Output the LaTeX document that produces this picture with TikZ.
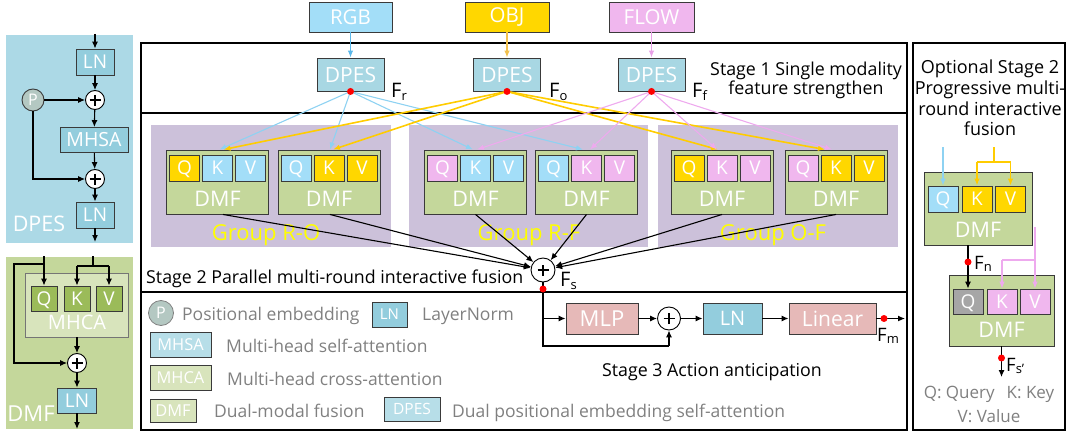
\documentclass[tikz,border=0pt]{standalone}
\usepackage{fontspec}
\setmainfont{Open Sans}
\usetikzlibrary{arrows.meta,calc}
\definecolor{bord}{HTML}{3A3A3A}
\definecolor{panelblue}{HTML}{ACD9E6}
\definecolor{boxblue}{HTML}{93CDDD}
\definecolor{dpesblue}{HTML}{A8D7E3}
\definecolor{inblue}{HTML}{A3DEF8}
\definecolor{lineblue}{HTML}{8ED2F2}
\definecolor{arrblue}{HTML}{5BB8EA}
\definecolor{gold}{HTML}{FFD700}
\definecolor{linegold}{HTML}{FFCC00}
\definecolor{arrgold}{HTML}{F2C14E}
\definecolor{pinkq}{HTML}{F0B7EE}
\definecolor{linepink}{HTML}{EEAAEE}
\definecolor{arrpink}{HTML}{E9A1E8}
\definecolor{purp}{HTML}{CCC1DA}
\definecolor{dmfg}{HTML}{C4D79B}
\definecolor{mhcag}{HTML}{D8E4BC}
\definecolor{darkg}{HTML}{9BBB59}
\definecolor{mlpc}{HTML}{E6B9B8}
\definecolor{pgray}{HTML}{B4C8C2}
\definecolor{legtext}{HTML}{808080}
\definecolor{qgray}{HTML}{A6A6A6}
\definecolor{grpyel}{HTML}{FFFF00}
\definecolor{legblue}{HTML}{B7DEE8}
\newcommand\fsz[1]{\fontsize{#1}{#1}\selectfont}
\newcommand\Fsub[1]{F\raisebox{-0.3ex}{\fsz{13}#1}}
\newcommand\dmfblk[5]{%
 \node[bx, fill=dmfg, minimum width=102, minimum height=64] (#1) at (#2,182) {};
 \node[qkv, fill=#3] (#1q) at (#2-33,168) {Q};
 \node[qkv, fill=#4] (#1k) at (#2,168) {K};
 \node[qkv, fill=#5] (#1v) at (#2+33,168) {V};
 \node[wlab, font=\fsz{21.5}] (#1t) at (#2,199) {DMF};}
\begin{document}
\begin{tikzpicture}[x=1pt,y=-1pt,
  bx/.style={draw=bord, line width=0.9pt, inner sep=0pt, text=white},
  qkv/.style={bx, minimum width=30, minimum height=26, font=\fsz{19}, text depth=0pt},
  ar/.style={-{Latex[length=7pt,width=6pt]}, line width=1.1pt, draw=black},
  cl/.style={-{Latex[length=7pt,width=5.5pt]}, line width=1.1pt},
  pluscirc/.style={circle, draw=black, line width=0.9pt, fill=white, minimum size=#1, inner sep=0pt,
    path picture={\draw[line width=1.3pt] ([xshift=-5.5pt]path picture bounding box.center) -- ([xshift=5.5pt]path picture bounding box.center) ([yshift=-5.5pt]path picture bounding box.center) -- ([yshift=5.5pt]path picture bounding box.center);}},
  pluscirc/.default=19,
  rdot/.style={circle, fill=red, inner sep=0pt, minimum size=7pt},
  lab/.style={inner sep=0pt, font=\fsz{17.8}},
  leg/.style={inner sep=0pt, font=\fsz{17.5}, text=legtext, anchor=base west},
  wlab/.style={inner sep=0pt, text=white},
]
\useasboundingbox (0,0) rectangle (1068,436);

% ---------- left DPES panel
\path[fill=panelblue] (6,35) rectangle (133,243);
\node[bx, fill=boxblue, minimum width=38, minimum height=26, font=\fsz{19}] (ln1) at (95,62) {LN};
\node[pluscirc] (pl1) at (95,100) {};
\node[circle, draw=bord, line width=0.9pt, fill=pgray, minimum size=22, inner sep=0pt, text=white, font=\fsz{16}] (pp) at (33,100) {P};
\node[bx, fill=boxblue, minimum width=68, minimum height=25, font=\fsz{19.5}] (mhsa) at (94,140) {MHSA};
\node[pluscirc] (pl2) at (95,179) {};
\node[bx, fill=boxblue, minimum width=38, minimum height=26, font=\fsz{19}] (ln2) at (95,215) {LN};
\node[wlab, font=\fsz{21.5}] (dpeslab) at (39,224) {DPES};
\coordinate (intop) at (95,34);
\coordinate (outdp) at (95,242);
\draw[ar] (intop) -- (ln1);
\draw[ar] (ln1) -- (pl1);
\draw[ar] (pp) -- (pl1);
\draw[ar] (pl1) -- (mhsa);
\draw[ar] (mhsa) -- (pl2);
\draw[ar] (pp.south) |- (pl2);
\draw[ar] (pl2) -- (ln2);
\draw[ar] (ln2) -- (outdp);

% ---------- left DMF panel
\path[fill=dmfg] (6,257) rectangle (133,429);
\node[draw=bord!70, line width=0.7pt, fill=mhcag, minimum width=103, minimum height=64, inner sep=0pt] (mhca) at (77,305) {};
\node[wlab, font=\fsz{20}] (mhcal) at (77,322) {MHCA};
\node[bx, fill=darkg, minimum width=26, minimum height=25, font=\fsz{19}, text depth=0pt] (lq) at (44,298.5) {Q};
\node[bx, fill=darkg, minimum width=26, minimum height=25, font=\fsz{19}, text depth=0pt] (lk) at (77,298.5) {K};
\node[bx, fill=darkg, minimum width=26, minimum height=25, font=\fsz{19}, text depth=0pt] (lv) at (109,298.5) {V};
\node[pluscirc] (pl3) at (77,363) {};
\node[bx, fill=boxblue, minimum width=39, minimum height=25, font=\fsz{19}] (ln3) at (77,400.5) {LN};
\node[wlab, font=\fsz{22}] (dmflab) at (31,414) {DMF};
\coordinate (lqtop) at (44,256);
\coordinate (lbr) at (44,264);
\coordinate (lleft) at (14,264);
\coordinate (lkvtop) at (93,256);
\coordinate (lkvs) at (93,266);
\coordinate (lks) at (77,266);
\coordinate (lvs) at (109,266);
\coordinate (outdmf) at (77,429);
\draw[ar] (lqtop) -- (lq);
\draw[ar] (lbr) -- (lleft) |- (pl3);
\draw[line width=1.1pt] (lkvtop) -- (lkvs) (lks) -- (lvs);
\draw[ar] (lks) -- (lk);
\draw[ar] (lvs) -- (lv);
\draw[ar] (mhca) -- (pl3);
\draw[ar] (pl3) -- (ln3);
\draw[ar] (ln3) -- (outdmf);

% ---------- frames
\draw[line width=1.5pt] (141,43) rectangle (907,430);
\draw[line width=1.5pt] (141,113) -- (907,113);
\draw[line width=1.5pt] (141,292) -- (907,292);
\draw[line width=1.5pt] (913,43) rectangle (1065,430);

% ---------- stage 1
\node[bx, fill=inblue, minimum width=83, minimum height=30, font=\fsz{20.5}] (rgb) at (350.5,17) {RGB};
\node[bx, fill=gold, minimum width=84, minimum height=30, font=\fsz{20.5}] (obj) at (507,17) {OBJ};
\node[bx, fill=pinkq, minimum width=85, minimum height=30, font=\fsz{20.5}] (flow) at (651.5,17) {FLOW};
\node[bx, fill=dpesblue, minimum width=67, minimum height=33, font=\fsz{21}] (dpr) at (350.5,74.5) {DPES};
\node[bx, fill=dpesblue, minimum width=67, minimum height=33, font=\fsz{21}] (dpo) at (507,74.5) {DPES};
\node[bx, fill=dpesblue, minimum width=67, minimum height=33, font=\fsz{21}] (dpf) at (651.5,74.5) {DPES};
\draw[cl, draw=arrblue] (rgb) -- (dpr);
\draw[cl, draw=arrgold] (obj) -- (dpo);
\draw[cl, draw=arrpink] (flow) -- (dpf);
\node[lab, anchor=base] (st1a) at (806,75) {Stage 1 Single modality};
\node[lab, anchor=base] (st1b) at (806,94) {feature strengthen};
\node[inner sep=0pt, anchor=base west, font=\fsz{20}] (fr) at (391,97) {\Fsub{r}};
\node[inner sep=0pt, anchor=base west, font=\fsz{20}] (fo) at (549,97) {\Fsub{o}};
\node[inner sep=0pt, anchor=base west, font=\fsz{20}] (ff) at (692,97) {\Fsub{f}};

% ---------- stage 2
\path[fill=purp] (151,125) rectangle (391,247);
\path[fill=purp] (409,125) rectangle (648,247);
\path[fill=purp] (658,125) rectangle (898,247);
\dmfblk{da}{217.5}{gold}{inblue}{inblue}
\dmfblk{db}{329}{inblue}{gold}{gold}
\dmfblk{dc}{475.5}{pinkq}{inblue}{inblue}
\dmfblk{dd}{586.5}{inblue}{pinkq}{pinkq}
\dmfblk{de}{722}{gold}{pinkq}{pinkq}
\dmfblk{df}{836}{pinkq}{gold}{gold}
\node[inner sep=0pt, anchor=base, text=grpyel, font=\fsz{22}] (g1) at (266,240) {Group R-O};
\node[inner sep=0pt, anchor=base, text=grpyel, font=\fsz{22}] (g2) at (529,240) {Group R-F};
\node[inner sep=0pt, anchor=base, text=grpyel, font=\fsz{22}] (g3) at (773,240) {Group O-F};

\draw[cl, draw=lineblue] (dpr.south) -- ($(da.north)+(2,0)$);
\draw[cl, draw=lineblue] (dpr.south) -- ($(db.north)+(1,0)$);
\draw[cl, draw=lineblue] (dpr.south) -- ($(dc.north)+(-2.5,0)$);
\draw[cl, draw=lineblue] (dpr.south) -- ($(dd.north)+(-3.5,0)$);
\draw[cl, draw=linegold, line width=1.6pt] (dpo.south) -- ($(da.north)+(6,0)$);
\draw[cl, draw=linegold, line width=1.6pt] (dpo.south) -- ($(db.north)+(4,0)$);
\draw[cl, draw=linegold, line width=1.6pt] (dpo.south) -- ($(de.north)+(-4,0)$);
\draw[cl, draw=linegold, line width=1.6pt] (dpo.south) -- ($(df.north)+(-11,0)$);
\draw[cl, draw=linepink] (dpf.south) -- ($(dc.north)+(1.5,0)$);
\draw[cl, draw=linepink] (dpf.south) -- ($(dd.north)+(3.5,0)$);
\draw[cl, draw=linepink] (dpf.south) -- ($(de.north)+(-5,0)$);
\draw[cl, draw=linepink] (dpf.south) -- ($(df.north)+(-4,0)$);
\node[rdot] (dotr) at (dpr.south) {};
\node[rdot] (doto) at (dpo.south) {};
\node[rdot] (dotf) at (dpf.south) {};

\node[pluscirc=24] (fs) at (543,270) {};
\draw[ar] ($(da.south)+(5.5,0)$) -- (fs);
\draw[ar] ($(db.south)+(1,0)$) -- (fs);
\draw[ar] (dc.south) -- (fs);
\draw[ar] (dd.south) -- (fs);
\draw[ar] (de.south) -- (fs);
\draw[ar] (df.south) -- (fs);
\node[lab, anchor=base west] (st2) at (146,283) {Stage 2 Parallel multi-round interactive fusion};
\node[inner sep=0pt, anchor=base west, font=\fsz{20}] (fslab) at (560,286) {\Fsub{s}};

% ---------- stage 3
\node[bx, fill=mlpc, minimum width=72, minimum height=31, font=\fsz{22}] (mlp) at (602,318.5) {MLP};
\node[pluscirc=23] (pl4) at (669,318.5) {};
\node[bx, fill=boxblue, minimum width=59, minimum height=31, font=\fsz{20}] (ln4) at (732.5,318.5) {LN};
\node[bx, fill=mlpc, minimum width=87, minimum height=31, font=\fsz{21}] (lin) at (832.5,318.5) {Linear};
\coordinate (s3a) at (543,318.5);
\coordinate (s3b) at (543,346);
\coordinate (s3c) at (669,346);
\coordinate (fmend) at (905,318.5);
\draw[line width=1.1pt] (fs.south) -- (s3b) -- (s3c);
\draw[ar] (s3c) -- (pl4);
\draw[ar] (s3a) -- (mlp);
\draw[ar] (mlp) -- (pl4);
\draw[ar] (pl4) -- (ln4);
\draw[ar] (ln4) -- (lin);
\draw[ar] (lin) -- (fmend);
\node[rdot] (fsdot) at (543,289) {};
\node[rdot] (fmdot) at (884,318.5) {};
\node[inner sep=0pt, anchor=base west, font=\fsz{18.5}] (fmlab) at (877,341) {\Fsub{m}};
\node[lab, anchor=base] (st3) at (712,376) {Stage 3 Action anticipation};

% ---------- legend
\node[circle, draw=legtext, line width=0.8pt, fill=pgray, minimum size=25, inner sep=0pt, text=white, font=\fsz{16}] (lgp) at (161,313) {P};
\node[leg] (lgpt) at (182,320) {Positional embedding};
\node[bx, fill=boxblue, minimum width=35, minimum height=25, font=\fsz{15}] (lgln) at (389.5,314.5) {LN};
\node[leg] (lglnt) at (422,320) {LayerNorm};
\node[bx, fill=legblue, minimum width=61, minimum height=25, font=\fsz{16.4}] (lgsa) at (180.5,344.5) {MHSA};
\node[leg] (lgsat) at (226,352) {Multi-head self-attention};
\node[bx, fill=mhcag, minimum width=61, minimum height=25, font=\fsz{16.4}] (lgca) at (180.5,377.5) {MHCA};
\node[leg] (lgcat) at (227,385) {Multi-head cross-attention};
\node[bx, fill=mhcag, minimum width=46, minimum height=23, font=\fsz{16.4}] (lgdmf) at (173,410.5) {DMF};
\node[leg] (lgdmft) at (214,417) {Dual-modal fusion};
\node[bx, fill=legblue, minimum width=56, minimum height=24, font=\fsz{15.5}] (lgdp) at (412,409) {DPES};
\node[leg] (lgdpt) at (452,417) {Dual positional embedding self-attention};

% ---------- right panel
\node[inner sep=0pt, anchor=base, font=\fsz{18}] (op1) at (990,74) {Optional Stage 2};
\node[inner sep=0pt, anchor=base, font=\fsz{18}] (op2) at (990,95) {Progressive multi-};
\node[inner sep=0pt, anchor=base, font=\fsz{18}] (op3) at (990,115) {round interactive};
\node[inner sep=0pt, anchor=base, font=\fsz{18}] (op4) at (990,135) {fusion};

\node[bx, fill=dmfg, minimum width=108, minimum height=73] (rd1) at (978,208.5) {};
\node[qkv, fill=inblue] (rd1q) at (943,199) {Q};
\node[qkv, fill=gold] (rd1k) at (977,199) {K};
\node[qkv, fill=gold] (rd1v) at (1010.5,199) {V};
\node[wlab, font=\fsz{21.5}] (rd1t) at (978,230) {DMF};
\coordinate (rqin) at (943,147);
\coordinate (rkvin) at (994,147);
\coordinate (rkvs) at (994,162);
\coordinate (rks) at (977,162);
\coordinate (rvs) at (1010.5,162);
\draw[cl, draw=lineblue] (rqin) -- (rd1q);
\draw[line width=1.4pt, linegold] (rkvin) -- (rkvs) (rks) -- (rvs);
\draw[cl, draw=linegold, line width=1.4pt] (rks) -- (rd1k);
\draw[cl, draw=linegold, line width=1.4pt] (rvs) -- (rd1v);

\node[bx, fill=dmfg, minimum width=105, minimum height=71] (rd2) at (1001.5,310.5) {};
\node[qkv, fill=qgray, minimum height=25] (rd2q) at (968,301.5) {Q};
\node[qkv, fill=pinkq, minimum height=25] (rd2k) at (1002,301.5) {K};
\node[qkv, fill=pinkq, minimum height=25] (rd2v) at (1035,301.5) {V};
\node[wlab, font=\fsz{21.5}] (rd2t) at (1001.5,330) {DMF};
\draw[ar] (rd1.south -| rd2q) -- (rd2q);
\coordinate (rpin) at (1035,227);
\coordinate (rps) at (1035,260);
\coordinate (rpk) at (1002,260);
\draw[cl, draw=linepink] (rpin) -- (rd2v);
\draw[line width=1.1pt, linepink] (rps) -- (rpk);
\draw[cl, draw=linepink] (rpk) -- (rd2k);
\coordinate (rout) at (1001.5,377);
\draw[ar] (rd2) -- (rout);
\node[rdot] (fndot) at (968,262) {};
\node[rdot] (fs2dot) at (1001.5,358) {};
\node[inner sep=0pt, anchor=base west, font=\fsz{18.5}] (fnlab) at (974,269) {\Fsub{n}};
\node[inner sep=0pt, anchor=base west, font=\fsz{18.5}] (fs2lab) at (1006,371) {\Fsub{s'}};
\node[inner sep=0pt, anchor=base, text=legtext, font=\fsz{17}] (qk) at (989,398) {Q: Query\hspace{12pt}K: Key};
\node[inner sep=0pt, anchor=base, text=legtext, font=\fsz{17}] (vv) at (989,422) {V: Value};
\end{tikzpicture}
\end{document}
